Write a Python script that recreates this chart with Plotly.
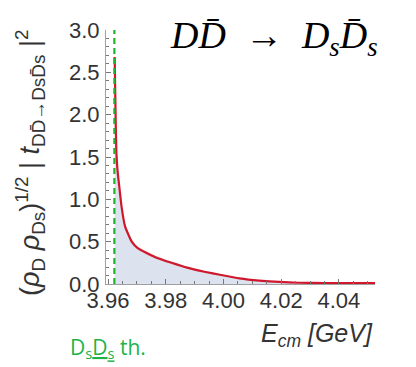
import plotly.graph_objects as go

# Data
e_cm = [3.9623, 3.9625, 3.9627, 3.9629, 3.9632, 3.9635, 3.9639, 3.9647, 3.9659, 3.9682,
        3.9704, 3.9762, 3.9820, 3.9877, 3.9934, 3.9992, 4.0055, 4.0124, 4.0193, 4.0260,
        4.0350, 4.0450, 4.0530]
amp = [2.68, 2.25, 1.85, 1.55, 1.38, 1.27, 1.15, 0.91, 0.68, 0.50,
       0.42, 0.32, 0.25, 0.19, 0.145, 0.106, 0.066, 0.040, 0.025, 0.015,
       0.011, 0.010, 0.010]
amp_lo = [2.62, 2.20, 1.81, 1.51, 1.35, 1.24, 1.12, 0.89, 0.66, 0.48,
          0.40, 0.305, 0.24, 0.18, 0.137, 0.099, 0.061, 0.036, 0.022, 0.013,
          0.009, 0.008, 0.008]
amp_hi = [2.74, 2.30, 1.90, 1.59, 1.42, 1.31, 1.19, 0.94, 0.71, 0.53,
          0.44, 0.34, 0.265, 0.205, 0.155, 0.114, 0.072, 0.045, 0.029, 0.018,
          0.013, 0.012, 0.012]
threshold = 3.9622
x_ticks = [3.96, 3.98, 4.00, 4.02, 4.04]
y_ticks = [0.0, 0.5, 1.0, 1.5, 2.0, 2.5, 3.0]

spl = dict(shape="spline", smoothing=0.4)
fig = go.Figure()
fig.add_trace(go.Scatter(x=e_cm, y=amp, mode="lines", line=dict(width=0, **spl),
                         fill="tozeroy", fillcolor="rgba(214,222,236,0.85)",
                         hoverinfo="skip", showlegend=False))
fig.add_trace(go.Scatter(x=e_cm, y=amp_lo, mode="lines", line=dict(width=0, **spl),
                         showlegend=False, hoverinfo="skip"))
fig.add_trace(go.Scatter(x=e_cm, y=amp_hi, mode="lines", line=dict(width=0, **spl),
                         fill="tonexty", fillcolor="rgba(235,120,140,0.35)",
                         showlegend=False, hoverinfo="skip"))
fig.add_trace(go.Scatter(x=e_cm, y=amp, mode="lines",
                         line=dict(color="#d0182c", width=2.2, **spl),
                         showlegend=False))
fig.add_trace(go.Scatter(x=[threshold, threshold], y=[0, 3.0], mode="lines",
                         line=dict(color="#22b32e", width=2.2, dash="6px,4px"),
                         showlegend=False))

axis_common = dict(showline=True, linecolor="#a0a0a0", linewidth=1.2,
                   ticks="inside", ticklen=5, tickcolor="#777", tickwidth=1,
                   showgrid=False, zeroline=False, mirror=False, automargin=False,
                   tickfont=dict(family="Liberation Sans", size=22, color="#333"))

fig.update_xaxes(range=[3.9593, 4.0525], tickvals=x_ticks,
                 ticktext=[f"{v:.2f}" for v in x_ticks],
                 minor=dict(dtick=0.005, tick0=3.96, ticks="inside", ticklen=3,
                            tickcolor="#777"),
                 ticklabelstandoff=-4,
                 **axis_common)
fig.update_yaxes(range=[0, 3.0], tickvals=y_ticks,
                 ticktext=[f"{v:.1f}" for v in y_ticks],
                 minor=dict(dtick=0.1, tick0=0, ticks="inside", ticklen=3,
                            tickcolor="#777"),
                 ticklabelstandoff=1,
                 **axis_common)

fig.update_layout(width=416, height=367, margin=dict(l=106, r=41, t=30, b=83),
                  plot_bgcolor="white", paper_bgcolor="white")

fig.add_annotation(xref="paper", yref="paper", x=-0.283, y=0.476, textangle=-90,
                   xanchor="center", yanchor="middle", showarrow=False,
                   text="(<i>ρ</i><sub>D</sub> <i>ρ</i><sub>Ds</sub>)<sup>1/2</sup> | <i>t</i><sub>DD̄→DsD̄s</sub> |<sup>2</sup>",
                   font=dict(family="Liberation Sans", size=27, color="#333"))
fig.add_annotation(xref="paper", yref="paper", x=1.0, y=-0.13, xanchor="right", yanchor="top",
                   showarrow=False, text="<i>E<sub>cm</sub> [GeV]</i>",
                   font=dict(family="Liberation Sans", size=25, color="#333"))
fig.add_annotation(xref="paper", yref="paper", x=0.625, y=0.968, xanchor="center", yanchor="middle",
                   showarrow=False,
                   text="<i>DD̄</i>\u2002→\u2002<i>D</i><sub><i>s</i></sub><i>D̄</i><sub><i>s</i></sub>",
                   font=dict(family="Liberation Serif", size=38, color="black"))
fig.add_annotation(xref="paper", yref="paper", x=-0.141, y=-0.185, xanchor="left", yanchor="top",
                   showarrow=False, text="D<sub>s</sub><u>D<sub>s</sub></u> th.",
                   font=dict(family="Open Sans", size=21, color="#1db34a"))

fig.write_html("out.html", post_script="document.body.style.margin='0';",
               config={"displayModeBar": False})
